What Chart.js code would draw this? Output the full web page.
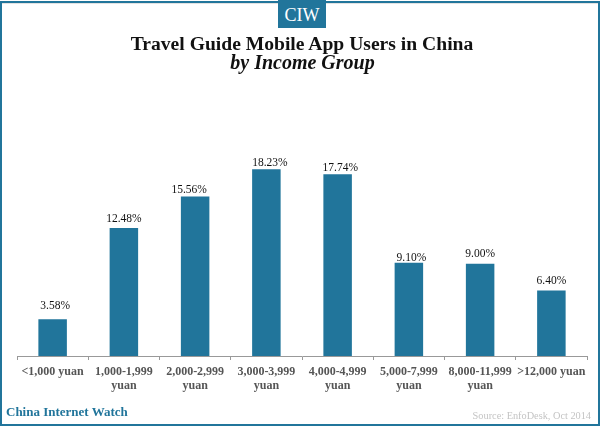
<!DOCTYPE html>
<html>
<head>
<meta charset="utf-8">
<script src="https://cdn.jsdelivr.net/npm/chart.js@4"></script>
<style>
html,body{margin:0;padding:0;background:#fff}
#wrap{position:relative;width:600px;height:426px;overflow:hidden;font-family:"Liberation Serif",serif}
#wrap canvas{position:absolute;left:0;top:0}
#frame{position:absolute;left:0;top:1px;width:596px;height:421px;border:2px solid #21759b;box-shadow:inset 0 1px 0 #e2e2e2;pointer-events:none}
#logo{position:absolute;left:278px;top:0;width:48px;height:28px;background:#21759b;color:#fff;font-size:18px;line-height:30px;text-align:center}
#t1,#t2{position:absolute;left:0;width:600px;text-align:center;color:#111;font-weight:bold;white-space:nowrap}
#t1{top:33px;font-size:19.6px;line-height:22px;padding-left:4px;box-sizing:border-box}
#t2{top:51px;font-size:20px;line-height:22px;font-style:italic;padding-left:5px;box-sizing:border-box}
#brand{position:absolute;left:6px;top:404px;font-size:13px;font-weight:bold;color:#21759b;line-height:16px}
#src{position:absolute;right:9px;top:409px;font-size:10.3px;color:#c4c4c4;line-height:14px}
</style>
</head>
<body>
<div id="wrap">
<canvas id="c" width="600" height="426"></canvas>
<div id="frame"></div>
<div id="logo">CIW</div>
<div id="t1">Travel Guide Mobile App Users in China</div>
<div id="t2">by Income Group</div>
<div id="brand">China Internet Watch</div>
<div id="src">Source: EnfoDesk, Oct 2014</div>
</div>
<script>
const categories = [
  "<1,000 yuan",
  ["1,000-1,999", "yuan"],
  ["2,000-2,999", "yuan"],
  ["3,000-3,999", "yuan"],
  ["4,000-4,999", "yuan"],
  ["5,000-7,999", "yuan"],
  ["8,000-11,999", "yuan"],
  ">12,000 yuan"
];
const shares = [3.58, 12.48, 15.56, 18.23, 17.74, 9.10, 9.00, 6.40];

// The reference's value labels are hand-placed: shift from bar centre, gap above bar top
const labelShiftX = [2.5, 0, -6, 3.5, 2.7, 2.6, 0, 0];
const labelGapY = [10, 6, 4, 3, 3, 2, 6.7, 6.7];

const barLabels = {
  id: 'barLabels',
  afterDatasetsDraw(chart) {
    const ctx = chart.ctx;
    ctx.save();
    ctx.font = '11.5px "Liberation Serif"';
    ctx.fillStyle = '#111';
    ctx.textAlign = 'center';
    ctx.textBaseline = 'alphabetic';
    chart.getDatasetMeta(0).data.forEach((bar, i) => {
      ctx.fillText(shares[i].toFixed(2) + '%', bar.x + labelShiftX[i], bar.y - labelGapY[i]);
    });
    ctx.restore();
  }
};

new Chart(document.getElementById('c'), {
  type: 'bar',
  data: {
    labels: categories,
    datasets: [{
      data: shares,
      backgroundColor: '#21759b',
      barPercentage: 0.4,
      categoryPercentage: 1
    }]
  },
  options: {
    responsive: false,
    animation: false,
    devicePixelRatio: 1,
    layout: { padding: { left: 17, right: 13, top: 151, bottom: 0 } },
    plugins: { legend: { display: false }, tooltip: { enabled: false }, title: { display: false } },
    scales: {
      y: { display: false, min: 0, max: 20 },
      x: {
        afterFit(scale) { scale.height = 70; },
        border: { display: true, color: '#999', width: 1 },
        grid: { display: true, drawOnChartArea: false, drawTicks: true, tickLength: 4, color: '#999', offset: true },
        ticks: {
          color: '#555',
          padding: 5,
          maxRotation: 0,
          minRotation: 0,
          autoSkip: false,
          font: { family: '"Liberation Serif"', size: 12, weight: 'bold', lineHeight: 1.167 }
        }
      }
    }
  },
  plugins: [barLabels]
});
</script>
</body>
</html>
